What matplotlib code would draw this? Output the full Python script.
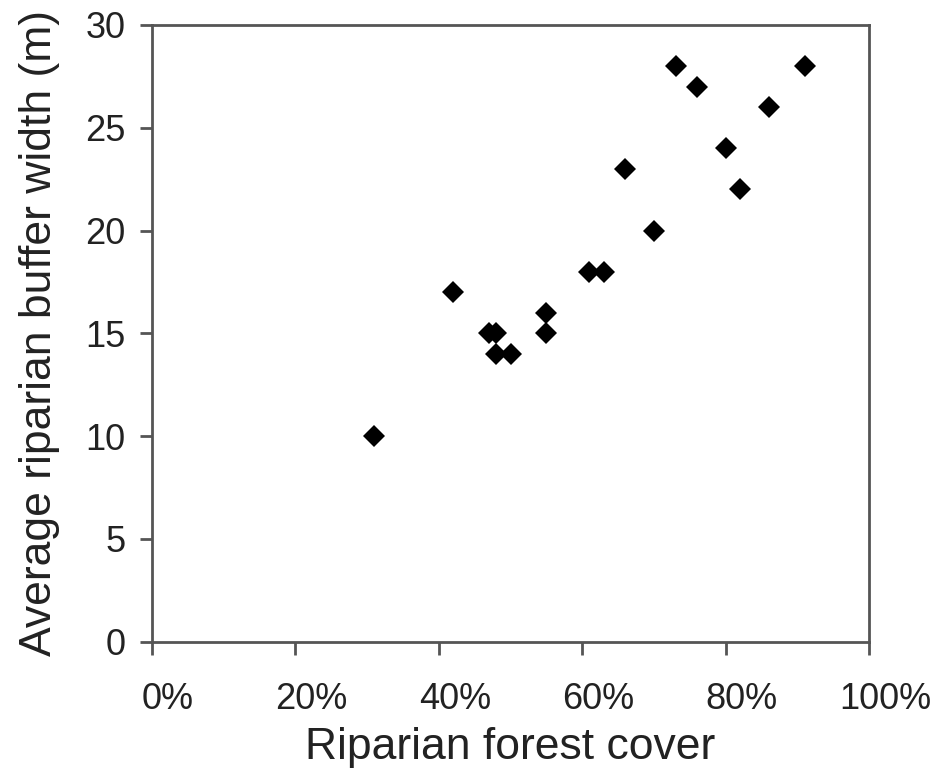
import matplotlib
matplotlib.use("Agg")
import matplotlib.pyplot as plt
from matplotlib.ticker import FuncFormatter
from matplotlib.transforms import ScaledTranslation

plt.rcParams['font.family'] = ['Liberation Sans', 'DejaVu Sans']

# forest cover (%) and mean buffer width (m) per site
forest_cover = [31, 42, 47, 48, 48, 50, 55, 55, 61, 63, 66, 70, 73, 76, 80, 82, 86, 91]
buffer_width = [10, 17, 15, 15, 14, 14, 16, 15, 18, 18, 23, 20, 28, 27, 24, 22, 26, 28]

x_ticks = [0, 20, 40, 60, 80, 100]
y_ticks = [0, 5, 10, 15, 20, 25, 30]

fig = plt.figure(figsize=(9.38, 7.69), dpi=100)
ax = fig.add_axes([0.1617, 0.1655, 0.7651, 0.802])

ax.plot(forest_cover, buffer_width, linestyle='None', marker='D',
        markersize=11.5, color='black', markeredgewidth=0)

ax.set_xlim(0, 100)
ax.set_ylim(0, 30)
ax.set_xticks(x_ticks)
ax.set_yticks(y_ticks)
ax.xaxis.set_major_formatter(FuncFormatter(lambda v, p: f"{int(v)}%"))

for side in ['left', 'bottom', 'top', 'right']:
    ax.spines[side].set_color('#555555')
    ax.spines[side].set_linewidth(2)

ax.tick_params(axis='both', direction='out', length=9, width=2,
               color='#555555', labelsize=26, labelcolor='#222222')
ax.tick_params(axis='x', pad=20)
ax.tick_params(axis='y', pad=10)

# percent labels sit a little right of their ticks
shift = ScaledTranslation(16 / 100, 0, fig.dpi_scale_trans)
for lbl in ax.get_xticklabels():
    lbl.set_transform(lbl.get_transform() + shift)

ax.set_xlabel('Riparian forest cover', fontsize=32, color='#222222', labelpad=7)
ax.set_ylabel('Average riparian buffer width (m)', fontsize=32, color='#222222', labelpad=18)

fig.savefig('out.png', dpi=100)
